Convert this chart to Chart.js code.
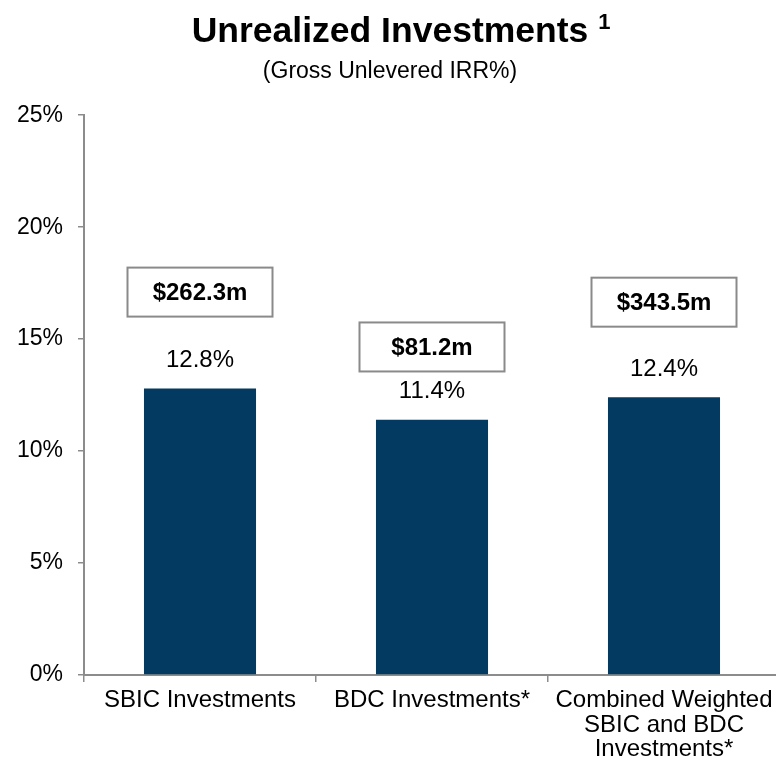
<!DOCTYPE html>
<html>
<head>
<meta charset="utf-8">
<script src="https://cdn.jsdelivr.net/npm/chart.js@4"></script>
<style>
  html, body { margin: 0; padding: 0; background: #fff; overflow: hidden; }
  #wrap { width: 780px; height: 765px; position: relative; }
</style>
</head>
<body>
<div id="wrap"><canvas id="irr-chart"></canvas></div>
<script>
// chart data
var categories = ['SBIC Investments', 'BDC Investments*', ['Combined Weighted', 'SBIC and BDC', 'Investments*']];
var irrValues = [12.8, 11.4, 12.4];
var amountLabels = ['$262.3m', '$81.2m', '$343.5m'];
var yTicks = [0, 5, 10, 15, 20, 25];

var navy = '#033a61';
var axisGrey = '#8c8c8c';
var fontFamily = 'Arial, "Liberation Sans", sans-serif';

// value labels + boxed amounts + title superscript
var labelsPlugin = {
  id: 'irrLabels',
  afterDatasetsDraw: function(chart, args, opts) {
    var ctx = chart.ctx;
    var meta = chart.getDatasetMeta(0);
    var yScale = chart.scales.y;
    ctx.save();
    meta.data.forEach(function(bar, i) {
      // percent above the bar
      ctx.font = '24px ' + fontFamily;
      ctx.fillStyle = '#000';
      ctx.textAlign = 'center';
      ctx.textBaseline = 'middle';
      ctx.fillText(irrValues[i].toFixed(1) + '%', bar.x, bar.y - 28);

      // boxed amount
      var cy = yScale.getPixelForValue(opts.boxLevels[i]);
      var w = 145, h = 49;
      ctx.fillStyle = '#fff';
      ctx.fillRect(bar.x - w / 2, cy - h / 2, w, h);
      ctx.strokeStyle = '#8a8a8a';
      ctx.lineWidth = 2;
      ctx.strokeRect(bar.x - w / 2, cy - h / 2, w, h);
      ctx.fillStyle = '#000';
      ctx.font = 'bold 24px ' + fontFamily;
      ctx.fillText(amountLabels[i], bar.x, cy + 1);
    });

    // superscript "1" after the title
    var t = chart.titleBlock;
    if (t) {
      ctx.font = 'bold 35.5px ' + fontFamily;
      var tw = ctx.measureText(chart.options.plugins.title.text).width;
      var cx = (t.left + t.right) / 2;
      ctx.font = 'bold 22px ' + fontFamily;
      ctx.textAlign = 'left';
      ctx.textBaseline = 'middle';
      ctx.fillText('1', cx + tw / 2 + 10, 23);
    }
    ctx.restore();
  }
};

var ctx = document.getElementById('irr-chart').getContext('2d');
new Chart(ctx, {
  type: 'bar',
  data: {
    labels: categories,
    datasets: [{
      data: irrValues,
      backgroundColor: navy,
      borderWidth: 0,
      categoryPercentage: 0.966,
      barPercentage: 0.5
    }]
  },
  options: {
    responsive: true,
    maintainAspectRatio: false,
    animation: false,
    layout: {
      padding: { left: 0, right: 0, top: 0, bottom: 0 }
    },
    plugins: {
      legend: { display: false },
      tooltip: { enabled: false },
      title: {
        display: true,
        text: 'Unrealized Investments',
        color: '#000',
        font: { family: fontFamily, size: 35.5, weight: 'bold', lineHeight: 1.2 },
        padding: { top: 11, bottom: 0 }
      },
      subtitle: {
        display: true,
        text: '(Gross Unlevered IRR%)',
        color: '#000',
        font: { family: fontFamily, size: 23, lineHeight: 1.2 },
        padding: { top: 4, bottom: 30 }
      },
      irrLabels: {
        boxLevels: [17.1, 14.65, 16.65]
      }
    },
    scales: {
      x: {
        afterFit: function(axis) { axis.height = 90; },
        grid: {
          display: true,
          drawOnChartArea: false,
          drawTicks: true,
          tickLength: 7,
          color: axisGrey,
          lineWidth: 1.5,
          offset: true
        },
        border: { display: true, color: axisGrey, width: 2 },
        ticks: {
          color: '#000',
          padding: 6,
          maxRotation: 0,
          autoSkip: false,
          font: { family: fontFamily, size: 24, lineHeight: 1.03 }
        }
      },
      y: {
        min: 0,
        max: 25,
        afterFit: function(axis) { axis.width = 84; },
        afterBuildTicks: function(axis) {
          axis.ticks = yTicks.map(function(v) { return { value: v }; });
        },
        grid: {
          display: true,
          drawOnChartArea: false,
          drawTicks: true,
          tickLength: 6,
          color: axisGrey,
          lineWidth: 1.5
        },
        border: { display: true, color: axisGrey, width: 2 },
        ticks: {
          color: '#000',
          padding: 15,
          font: { family: fontFamily, size: 23 },
          callback: function(val) { return val + '%'; }
        }
      }
    }
  },
  plugins: [labelsPlugin]
});
</script>
</body>
</html>
